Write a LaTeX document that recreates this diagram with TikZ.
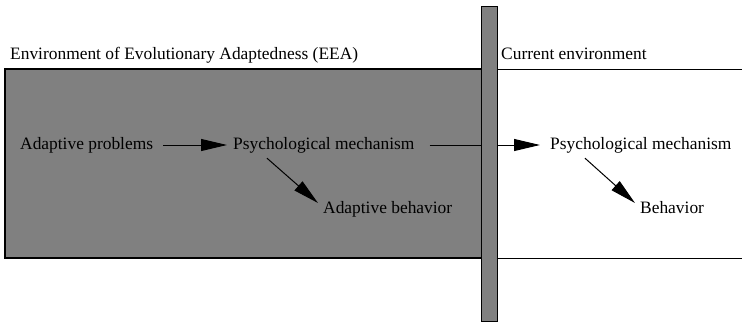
\documentclass[tikz,border=0pt]{standalone}
\usepackage{fontspec}
\setmainfont{Liberation Serif}
\usepackage{tikz}
\definecolor{eeagray}{HTML}{808080}
\usetikzlibrary{arrows.meta, positioning}
\tikzset{
	envtext/.style={font=\fontsize{17.4}{20}\selectfont, inner sep=5pt,
		text height=12pt, text depth=4pt},
	flow/.style={-{Triangle[length=26pt, width=12pt]}, line width=1pt,
		shorten <=5pt, shorten >=1pt},
	wall/.style={draw=black, fill=eeagray, line width=1.2pt}
}
\begin{document}
\begin{tikzpicture}[x=1pt, y=-1pt]
	\useasboundingbox (0,0) rectangle (742,322);
	% past environment and boundary lines
	\draw[wall] (5,69) rectangle (489,258);
	\draw[line width=1pt] (489,69) -- (742,69);
	\draw[line width=1pt] (489,258) -- (742,258);
	% headings
	\node[envtext, anchor=base west, inner sep=0pt] (eea) at (10,59) {Environment of Evolutionary Adaptedness (EEA)};
	\node[envtext, anchor=base west, inner sep=0pt] (cur) at (501,59) {Current environment};
	% EEA side
	\node[envtext, anchor=west] (ap) at (15,145) {Adaptive problems};
	\node[envtext, anchor=west] (pm1) at (228,145) {Psychological mechanism};
	\node[envtext, anchor=west] (ab) at (318,209) {Adaptive behavior};
	% current side
	\node[envtext, anchor=west] (pm2) at (545,145) {Psychological mechanism};
	\node[envtext, anchor=west] (beh) at (635,209) {Behavior};
	\draw[flow] (ap) -- (pm1);
	\draw[flow, shorten <=10pt, shorten >=5pt] (pm1) -- (pm2);
	\draw[flow, shorten <=0pt, shorten >=0pt] ([xshift=39pt]pm1.south west) -- ([yshift=6pt]ab.west);
	\draw[flow, shorten <=0pt, shorten >=0pt] ([xshift=40pt]pm2.south west) -- ([yshift=6pt]beh.west);
	% separating wall, drawn over the flow
	\draw[wall, line width=1pt] (481,6) rectangle (497,321);
\end{tikzpicture}
\end{document}
